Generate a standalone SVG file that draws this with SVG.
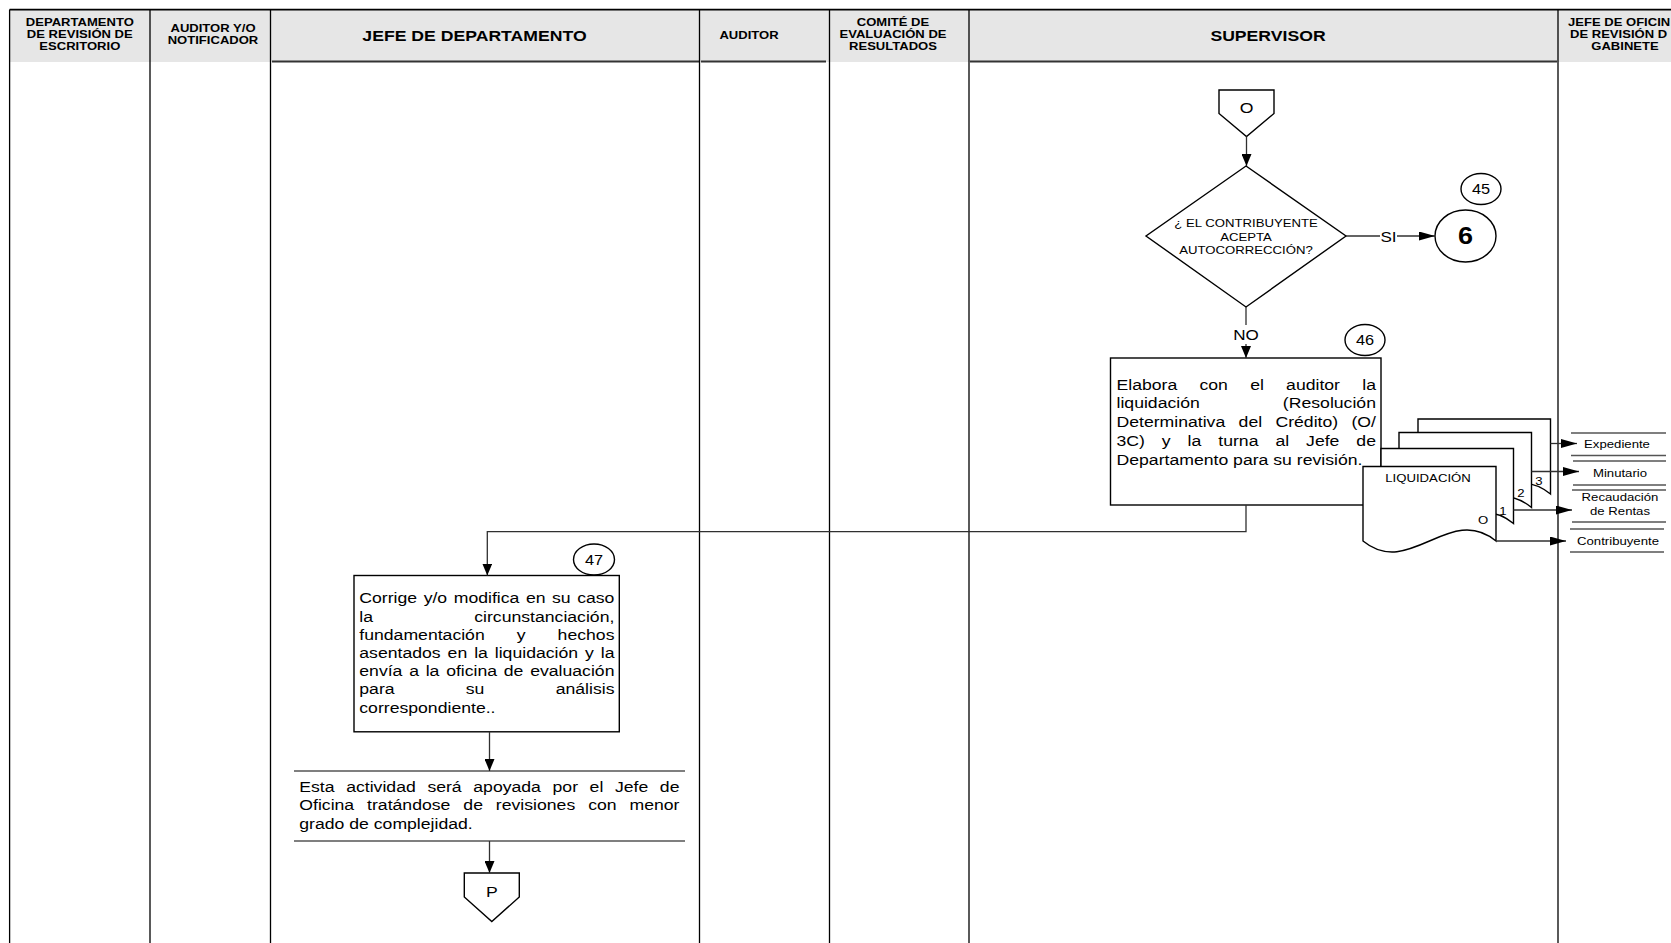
<svg xmlns="http://www.w3.org/2000/svg" width="1671" height="943" viewBox="0 0 1671 943">
<defs>
<style>
.t{font-family:"Liberation Sans",Arial,sans-serif;fill:#000}
.hb{font-weight:bold;font-size:11.1px}
.hl{font-weight:bold;font-size:15px}
.b{font-size:15px}
.s{font-size:11.2px}
.n{font-size:13.9px}
.lane{stroke:#000;stroke-width:1.3;fill:none}
.shape{fill:#fff;stroke:#000;stroke-width:1.4}
.con{fill:none;stroke:#303030;stroke-width:1.3}
.dl{stroke:#555;stroke-width:1.4}
.hdr{fill:#e6e6e6}
.hline{stroke:#333;stroke-width:2}
</style>
<marker id="ah" markerUnits="userSpaceOnUse" markerWidth="12" markerHeight="10" refX="12" refY="5" orient="auto"><path d="M0,0 L12,5 L0,10 Z" fill="#000"/></marker>
<marker id="ahs" markerUnits="userSpaceOnUse" markerWidth="16" markerHeight="9" refX="16" refY="4.5" orient="auto"><path d="M0,0 L16,4.5 L0,9 Z" fill="#000"/></marker>
</defs>
<rect x="0" y="0" width="1671" height="943" fill="#fff"/>

<g id="encabezado">
<rect class="hdr" x="9.6" y="9.6" width="1662" height="52.4"/>
<line class="hline" x1="272" y1="61.5" x2="699" y2="61.5"/>
<line class="hline" x1="701" y1="61.5" x2="826" y2="61.5"/>
<line class="hline" x1="970" y1="61.5" x2="1557" y2="61.5"/>
<line x1="9.6" y1="9.6" x2="1671" y2="9.6" stroke="#000" stroke-width="1.6"/>
<text class="t hb" text-anchor="middle" transform="translate(79.8 26) scale(1.176 1)">DEPARTAMENTO</text>
<text class="t hb" text-anchor="middle" transform="translate(79.8 37.8) scale(1.176 1)">DE REVISIÓN DE</text>
<text class="t hb" text-anchor="middle" transform="translate(79.8 49.6) scale(1.176 1)">ESCRITORIO</text>
<text class="t hb" text-anchor="middle" transform="translate(213 32) scale(1.176 1)">AUDITOR Y/O</text>
<text class="t hb" text-anchor="middle" transform="translate(213 43.8) scale(1.176 1)">NOTIFICADOR</text>
<text class="t hl" text-anchor="middle" transform="translate(474.5 40.5) scale(1.176 1)">JEFE DE DEPARTAMENTO</text>
<text class="t hb" text-anchor="middle" transform="translate(749 39) scale(1.176 1)">AUDITOR</text>
<text class="t hb" text-anchor="middle" transform="translate(893 26) scale(1.176 1)">COMITÉ DE</text>
<text class="t hb" text-anchor="middle" transform="translate(893 37.8) scale(1.176 1)">EVALUACIÓN DE</text>
<text class="t hb" text-anchor="middle" transform="translate(893 49.6) scale(1.176 1)">RESULTADOS</text>
<text class="t hl" text-anchor="middle" transform="translate(1268 40.5) scale(1.176 1)">SUPERVISOR</text>
<text class="t hb" transform="translate(1568 26) scale(1.176 1)">JEFE DE OFICIN</text>
<text class="t hb" transform="translate(1570 37.8) scale(1.176 1)">DE REVISIÓN D</text>
<text class="t hb" text-anchor="middle" transform="translate(1625 49.6) scale(1.176 1)">GABINETE</text>
</g>

<g id="carriles">
<line class="lane" x1="9.6" y1="9.6" x2="9.6" y2="943"/>
<line class="lane" x1="150" y1="9.6" x2="150" y2="943"/>
<line class="lane" x1="270.5" y1="9.6" x2="270.5" y2="943"/>
<line class="lane" x1="699.5" y1="9.6" x2="699.5" y2="943"/>
<line class="lane" x1="829.5" y1="9.6" x2="829.5" y2="943"/>
<line class="lane" x1="969" y1="9.6" x2="969" y2="943"/>
<line class="lane" x1="1558" y1="9.6" x2="1558" y2="943"/>
</g>

<g id="conector-o">
<polygon class="shape" points="1219,90 1274,90 1274,113.5 1246.5,136.5 1219,113.5"/>
<text class="t b" text-anchor="middle" transform="translate(1246.5 113) scale(1.176 1)">O</text>
</g>

<g id="decision">
<polygon class="shape" points="1246,166 1346,236 1246,307 1146,236"/>
<text class="t s" text-anchor="middle" transform="translate(1246 227) scale(1.176 1)">¿ EL CONTRIBUYENTE</text>
<text class="t s" text-anchor="middle" transform="translate(1246 240.5) scale(1.176 1)">ACEPTA</text>
<text class="t s" text-anchor="middle" transform="translate(1246 254) scale(1.176 1)">AUTOCORRECCIÓN?</text>
</g>

<g id="paso-45">
<ellipse class="shape" cx="1481" cy="189" rx="20" ry="15.5"/>
<text class="t n" text-anchor="middle" transform="translate(1481 194) scale(1.176 1)">45</text>
</g>

<g id="conector-6">
<ellipse class="shape" cx="1465.5" cy="236" rx="30.5" ry="26"/>
<text class="t" font-weight="bold" font-size="23" text-anchor="middle" transform="translate(1465.5 244.3) scale(1.176 1)">6</text>
</g>

<g id="paso-46">
<ellipse class="shape" cx="1365" cy="340" rx="20" ry="15.5"/>
<text class="t n" text-anchor="middle" transform="translate(1365 345) scale(1.176 1)">46</text>
</g>

<g id="actividad-46">
<rect class="shape" x="1110.5" y="358" width="270.5" height="147"/>
<text class="t b" transform="translate(1116.5 389.5) scale(1.176 1)"><tspan x="0">Elabora</tspan><tspan x="70.59">con</tspan><tspan x="113.67">el</tspan><tspan x="144.23">auditor</tspan><tspan x="208.98">la</tspan></text>
<text class="t b" transform="translate(1116.5 408.3) scale(1.176 1)"><tspan x="0">liquidación</tspan><tspan x="141.48">(Resolución</tspan></text>
<text class="t b" transform="translate(1116.5 427.1) scale(1.176 1)"><tspan x="0">Determinativa</tspan><tspan x="103.83">del</tspan><tspan x="135.16">Crédito)</tspan><tspan x="199.82">(O/</tspan></text>
<text class="t b" transform="translate(1116.5 445.9) scale(1.176 1)"><tspan x="0">3C)</tspan><tspan x="38.57">y</tspan><tspan x="60.47">la</tspan><tspan x="86.55">turna</tspan><tspan x="135.14">al</tspan><tspan x="161.21">Jefe</tspan><tspan x="203.97">de</tspan></text>
<text class="t b" transform="translate(1116.5 464.7) scale(1.176 1)">Departamento para su revisión.</text>
</g>

<g id="documento-liquidacion">
<path class="shape" d="M1418,419 H1550.5 V494 C1504.1,456 1464.4,532 1418,494 Z"/>
<path class="shape" d="M1399,432.5 H1531.5 V507.5 C1485.1,469.5 1445.4,545.5 1399,507.5 Z"/>
<path class="shape" d="M1381,448.5 H1513.5 V523.5 C1467.1,485.5 1427.4,561.5 1381,523.5 Z"/>
<path class="shape" d="M1363,466.5 H1496 V541 C1449.45,503 1409.55,579 1363,541 Z"/>
<text class="t s" text-anchor="middle" transform="translate(1428 482) scale(1.176 1)">LIQUIDACIÓN</text>
<text class="t s" text-anchor="middle" transform="translate(1483 523.5) scale(1.176 1)">O</text>
<text class="t s" text-anchor="middle" transform="translate(1503 515) scale(1.176 1)">1</text>
<text class="t s" text-anchor="middle" transform="translate(1521 497) scale(1.176 1)">2</text>
<text class="t s" text-anchor="middle" transform="translate(1539 485) scale(1.176 1)">3</text>
</g>

<g id="destino-expediente">
<line class="dl" x1="1571" y1="433" x2="1666" y2="433"/>
<line class="dl" x1="1571" y1="455.5" x2="1666" y2="455.5"/>
<text class="t s" text-anchor="middle" transform="translate(1617 448.3) scale(1.176 1)">Expediente</text>
</g>
<g id="destino-minutario">
<line class="dl" x1="1573" y1="461" x2="1666" y2="461"/>
<line class="dl" x1="1573" y1="485" x2="1666" y2="485"/>
<text class="t s" text-anchor="middle" transform="translate(1620 476.5) scale(1.176 1)">Minutario</text>
</g>
<g id="destino-recaudacion">
<line class="dl" x1="1572" y1="490" x2="1666" y2="490"/>
<line class="dl" x1="1572" y1="522" x2="1666" y2="522"/>
<text class="t s" text-anchor="middle" transform="translate(1620 501.3) scale(1.176 1)">Recaudación</text>
<text class="t s" text-anchor="middle" transform="translate(1620 514.8) scale(1.176 1)">de Rentas</text>
</g>
<g id="destino-contribuyente">
<line class="dl" x1="1570" y1="529" x2="1664" y2="529"/>
<line class="dl" x1="1570" y1="552" x2="1664" y2="552"/>
<text class="t s" text-anchor="middle" transform="translate(1618 544.8) scale(1.176 1)">Contribuyente</text>
</g>

<g id="paso-47">
<ellipse class="shape" cx="594" cy="559.5" rx="20.5" ry="15.5"/>
<text class="t n" text-anchor="middle" transform="translate(594 564.5) scale(1.176 1)">47</text>
</g>

<g id="actividad-47">
<rect class="shape" x="354" y="575.5" width="265.3" height="156.3"/>
<text class="t b" transform="translate(359.3 603.3) scale(1.176 1)"><tspan x="0">Corrige</tspan><tspan x="54.72">y/o</tspan><tspan x="80.28">modifica</tspan><tspan x="141.68">en</tspan><tspan x="163.91">su</tspan><tspan x="185.3">caso</tspan></text>
<text class="t b" transform="translate(359.3 621.5) scale(1.176 1)"><tspan x="0">la</tspan><tspan x="97.76">circunstanciación,</tspan></text>
<text class="t b" transform="translate(359.3 639.7) scale(1.176 1)"><tspan x="0">fundamentación</tspan><tspan x="133.92">y</tspan><tspan x="168.64">hechos</tspan></text>
<text class="t b" transform="translate(359.3 657.9) scale(1.176 1)"><tspan x="0">asentados</tspan><tspan x="75.1">en</tspan><tspan x="97.66">la</tspan><tspan x="115.21">liquidación</tspan><tspan x="191.96">y</tspan><tspan x="205.34">la</tspan></text>
<text class="t b" transform="translate(359.3 676.1) scale(1.176 1)"><tspan x="0">envía</tspan><tspan x="42.41">a</tspan><tspan x="56.46">la</tspan><tspan x="73.84">oficina</tspan><tspan x="122.9">de</tspan><tspan x="145.31">evaluación</tspan></text>
<text class="t b" transform="translate(359.3 694.3) scale(1.176 1)"><tspan x="0">para</tspan><tspan x="90.47">su</tspan><tspan x="167">análisis</tspan></text>
<text class="t b" transform="translate(359.3 712.5) scale(1.176 1)">correspondiente..</text>
</g>

<g id="nota">
<line class="dl" x1="294" y1="771" x2="685" y2="771"/>
<line class="dl" x1="294" y1="841" x2="685" y2="841"/>
<text class="t b" transform="translate(299.3 792) scale(1.176 1)"><tspan x="0">Esta</tspan><tspan x="39.87">actividad</tspan><tspan x="108.92">será</tspan><tspan x="147.95">apoyada</tspan><tspan x="215.35">por</tspan><tspan x="246.88">el</tspan><tspan x="268.41">Jefe</tspan><tspan x="306.61">de</tspan></text>
<text class="t b" transform="translate(299.3 810.3) scale(1.176 1)"><tspan x="0">Oficina</tspan><tspan x="57.65">tratándose</tspan><tspan x="139.5">de</tspan><tspan x="167.15">revisiones</tspan><tspan x="245.64">con</tspan><tspan x="280.79">menor</tspan></text>
<text class="t b" transform="translate(299.3 828.6) scale(1.176 1)">grado de complejidad.</text>
</g>

<g id="conector-p">
<polygon class="shape" points="464.3,873 519.3,873 519.3,897 491.8,921.5 464.3,897"/>
<text class="t b" text-anchor="middle" transform="translate(491.8 896.5) scale(1.176 1)">P</text>
</g>

<g id="conectores">
<line class="con" x1="1246.5" y1="136.5" x2="1246.5" y2="166" marker-end="url(#ah)"/>
<line class="con" x1="1346" y1="236" x2="1380" y2="236"/>
<line class="con" x1="1397" y1="236" x2="1435" y2="236" marker-end="url(#ahs)"/>
<text class="t" font-size="14.5" text-anchor="middle" transform="translate(1388.5 241.5) scale(1.176 1)">SI</text>
<line class="con" x1="1246" y1="307" x2="1246" y2="325"/>
<text class="t" font-size="14.5" text-anchor="middle" transform="translate(1246 339.5) scale(1.176 1)">NO</text>
<line class="con" x1="1246" y1="344" x2="1246" y2="358" marker-end="url(#ah)"/>
<polyline class="con" points="1246,505 1246,531.7 487.3,531.7 487.3,575.5" marker-end="url(#ah)"/>
<line class="con" x1="489.5" y1="731.8" x2="489.5" y2="771" marker-end="url(#ah)"/>
<line class="con" x1="489.5" y1="841" x2="489.5" y2="873" marker-end="url(#ah)"/>
<line class="con" x1="1550.5" y1="443.5" x2="1577" y2="443.5" marker-end="url(#ahs)"/>
<line class="con" x1="1531.5" y1="471.5" x2="1579" y2="471.5" marker-end="url(#ahs)"/>
<line class="con" x1="1513.5" y1="510" x2="1572" y2="510" marker-end="url(#ahs)"/>
<line class="con" x1="1496" y1="541" x2="1566" y2="541" marker-end="url(#ahs)"/>
</g>
</svg>
